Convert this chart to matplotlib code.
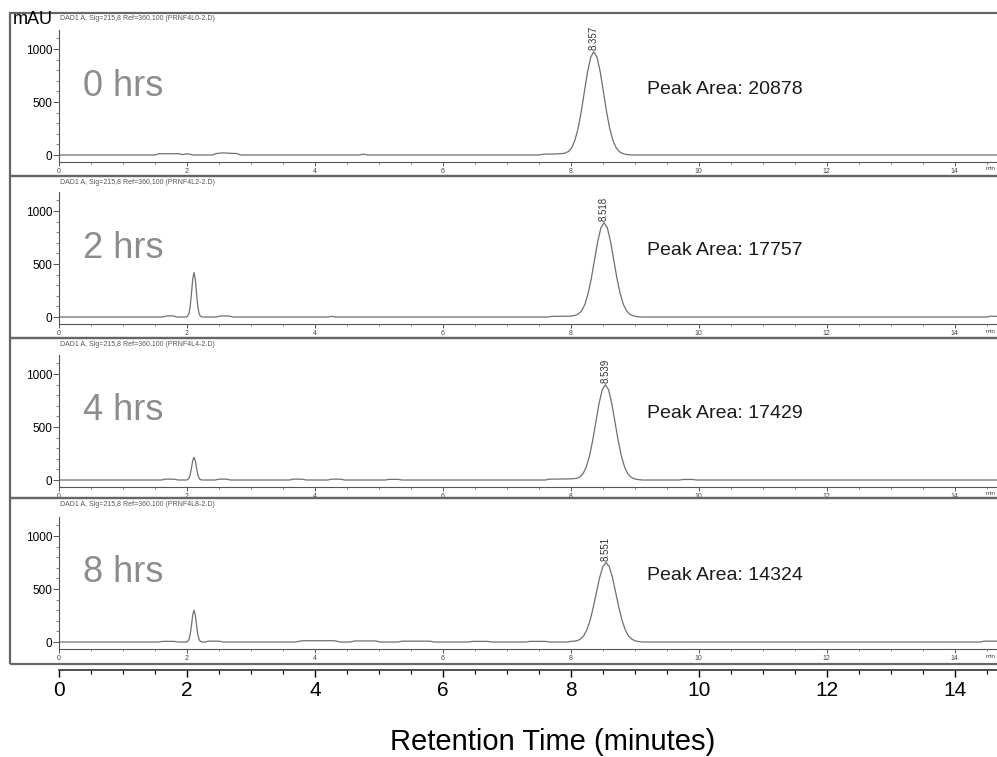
import matplotlib
matplotlib.use("Agg")
import matplotlib.pyplot as plt
from matplotlib.patches import Rectangle
from matplotlib.ticker import MultipleLocator

plt.rcParams['font.family'] = ['Liberation Sans', 'DejaVu Sans']

# figure size in pixels
W, H = 997, 757

# --- data ---
sample_labels = ["0 hrs", "2 hrs", "4 hrs", "8 hrs"]
data_files = ["PRNF4L0-2.D", "PRNF4L2-2.D", "PRNF4L4-2.D", "PRNF4L8-2.D"]
peak_rt = [8.357, 8.518, 8.539, 8.551]
peak_height = [975, 890, 900, 750]
peak_area = [20878, 17757, 17429, 14324]

# (time in min, signal in mAU)
trace_0h = [
    (0.00, 0), (1.50, 0), (1.56, 12), (1.88, 12), (1.93, 3), (1.98, 10), (2.04, 9), (2.09, 0),
    (2.40, 0), (2.46, 14), (2.56, 20), (2.66, 17), (2.78, 14), (2.84, 0),
    (4.70, 0), (4.76, 9), (4.82, 0),
    (7.50, 0), (7.58, 8), (7.78, 10), (7.88, 14), (7.91, 20), (7.96, 32), (8.01, 66),
    (8.06, 133), (8.11, 243), (8.16, 401), (8.21, 592), (8.26, 781), (8.31, 922),
    (8.357, 975), (8.41, 922), (8.46, 781), (8.51, 592), (8.56, 401), (8.61, 243),
    (8.66, 132), (8.71, 66), (8.76, 30), (8.81, 14), (8.86, 6), (8.95, 0), (14.66, 0),
]
trace_2h = [
    (0.00, 0), (1.62, 0), (1.68, 10), (1.78, 10), (1.84, 0),
    (1.99, 0), (2.01, 7), (2.03, 31), (2.05, 96), (2.07, 219), (2.09, 357), (2.11, 420),
    (2.13, 357), (2.15, 219), (2.17, 96), (2.19, 31), (2.21, 9), (2.24, 0),
    (2.46, 0), (2.52, 10), (2.66, 9), (2.72, 0),
    (4.20, 0), (4.26, 6), (4.32, 0),
    (7.65, 0), (7.70, 6), (7.98, 8), (8.02, 10), (8.07, 16), (8.12, 30), (8.17, 60),
    (8.22, 120), (8.27, 222), (8.32, 366), (8.37, 540), (8.42, 713), (8.47, 842),
    (8.518, 890), (8.57, 842), (8.62, 713), (8.67, 540), (8.72, 366), (8.77, 222),
    (8.82, 120), (8.87, 59), (8.92, 27), (8.97, 12), (9.02, 5), (9.10, 0),
    (14.50, 0), (14.56, 8), (14.66, 6),
]
trace_4h = [
    (0.00, 0), (1.60, 0), (1.66, 8), (1.80, 8), (1.86, 0),
    (1.99, 0), (2.01, 4), (2.03, 16), (2.05, 49), (2.07, 112), (2.09, 183), (2.11, 215),
    (2.13, 183), (2.15, 112), (2.17, 49), (2.19, 16), (2.21, 4), (2.24, 0),
    (2.44, 0), (2.50, 8), (2.62, 8), (2.68, 0),
    (3.60, 0), (3.66, 8), (3.80, 8), (3.86, 0),
    (4.20, 0), (4.26, 8), (4.40, 8), (4.46, 0),
    (5.10, 0), (5.16, 6), (5.30, 6), (5.36, 0),
    (7.60, 0), (7.66, 8), (7.95, 10), (8.04, 12), (8.09, 16), (8.14, 28), (8.19, 60),
    (8.24, 122), (8.29, 224), (8.34, 370), (8.39, 546), (8.44, 721), (8.49, 851),
    (8.539, 900), (8.59, 851), (8.64, 721), (8.69, 546), (8.74, 370), (8.79, 224),
    (8.84, 122), (8.89, 59), (8.94, 27), (8.99, 12), (9.04, 5), (9.12, 0),
    (9.70, 0), (9.76, 5), (9.90, 5), (9.96, 0), (14.66, 0),
]
trace_8h = [
    (0.00, 0), (1.55, 0), (1.62, 6), (1.80, 6), (1.86, 0),
    (1.99, 0), (2.01, 5), (2.03, 22), (2.05, 69), (2.07, 156), (2.09, 255), (2.11, 300),
    (2.13, 255), (2.15, 156), (2.17, 69), (2.19, 22), (2.21, 5), (2.24, 0),
    (2.28, 0), (2.34, 8), (2.50, 8), (2.56, 0),
    (3.70, 0), (3.80, 12), (4.30, 12), (4.40, 0),
    (4.55, 0), (4.62, 10), (4.95, 10), (5.02, 0),
    (5.30, 0), (5.36, 8), (5.80, 8), (5.86, 0),
    (6.40, 0), (6.46, 6), (6.70, 6), (6.76, 0),
    (7.30, 0), (7.36, 6), (7.60, 6), (7.66, 0),
    (7.95, 0), (8.00, 6), (8.05, 8), (8.10, 13), (8.15, 28), (8.20, 58), (8.25, 115),
    (8.30, 204), (8.35, 326), (8.40, 469), (8.45, 609), (8.50, 712), (8.551, 750),
    (8.60, 712), (8.65, 609), (8.70, 469), (8.75, 326), (8.80, 204), (8.85, 115),
    (8.90, 58), (8.95, 28), (9.00, 12), (9.05, 5), (9.12, 0),
    (14.40, 0), (14.46, 8), (14.66, 8),
]
traces = [trace_0h, trace_2h, trace_4h, trace_8h]

x_max = 14.66
y_lo, y_hi = -66, 1180

fig = plt.figure(figsize=(W / 100, H / 100), dpi=100)


def px_axes(left, top, width, height):
    # place an axes by pixel box (origin top-left)
    return fig.add_axes([left / W, 1 - (top + height) / H, width / W, height / H])


def fx(px):
    return px / W


def fy(py):
    return 1 - py / H


frame_tops = [13, 176, 338, 498, 664]
zero_rows = [155, 317, 480, 642]
axis_col = '#555555'
trace_col = '#6f6f6f'

for i, trace in enumerate(traces):
    top, bottom = frame_tops[i], frame_tops[i + 1]
    # panel frame
    fig.add_artist(Rectangle((fx(10), fy(bottom)), 1.2, (bottom - top) / H,
                             transform=fig.transFigure, fill=False,
                             edgecolor='#666666', linewidth=1.6))

    y0 = zero_rows[i]
    ax = px_axes(59, y0 - 125, 938, 132)
    ax.patch.set_alpha(0)
    t = [p[0] for p in trace]
    s = [p[1] for p in trace]
    ax.plot(t, s, color=trace_col, linewidth=0.9)
    ax.set_xlim(0, x_max)
    ax.set_ylim(y_lo, y_hi)
    for side in ['top', 'right']:
        ax.spines[side].set_visible(False)
    for side in ['left', 'bottom']:
        ax.spines[side].set_color(axis_col)
        ax.spines[side].set_linewidth(0.8)
    ax.set_yticks([0, 500, 1000])
    ax.yaxis.set_minor_locator(MultipleLocator(100))
    ax.xaxis.set_major_locator(MultipleLocator(2))
    ax.xaxis.set_minor_locator(MultipleLocator(0.5))
    ax.tick_params(axis='y', which='major', labelsize=8.5, length=4, width=0.7,
                   color=axis_col, pad=1)
    ax.tick_params(axis='y', which='minor', length=2, width=0.5, color=axis_col)
    ax.tick_params(axis='x', which='major', labelsize=5, length=3, width=0.7,
                   color=axis_col, labelcolor='#444444', pad=1)
    ax.tick_params(axis='x', which='minor', length=1.5, width=0.5, color=axis_col)

    # retention time above the main peak
    ax.annotate(f"{peak_rt[i]:.3f}", xy=(peak_rt[i], peak_height[i]),
                xytext=(0, 1), textcoords='offset points', rotation=90,
                ha='center', va='bottom', fontsize=7, color='#333333')

    fig.text(fx(60), fy(top + 6), f"DAD1 A, Sig=215,8 Ref=360,100 ({data_files[i]})",
             fontsize=5, color='#555555', ha='left', va='center')
    fig.text(fx(83), fy(y0 - 69), sample_labels[i], fontsize=26, color='#8c8c8c',
             ha='left', va='center')
    fig.text(fx(647), fy(y0 - 66), f"Peak Area: {peak_area[i]}", fontsize=14,
             color='#1a1a1a', ha='left', va='center')
    fig.text(fx(986), fy(y0 + 14), "min", fontsize=4.5, color='#444444',
             ha='left', va='center')

fig.text(fx(13), fy(20), "mAU", fontsize=13, ha='left', va='center')

# shared time axis below the panels
axb = px_axes(59, 669, 938, 1)
axb.patch.set_alpha(0)
axb.set_xlim(0, x_max)
axb.set_yticks([])
for side in ['top', 'right', 'left']:
    axb.spines[side].set_visible(False)
axb.spines['bottom'].set_color('#333333')
axb.spines['bottom'].set_linewidth(1.2)
axb.xaxis.set_major_locator(MultipleLocator(2))
axb.xaxis.set_minor_locator(MultipleLocator(0.5))
axb.tick_params(axis='x', which='major', labelsize=15, length=5, width=1, pad=3)
axb.tick_params(axis='x', which='minor', length=3, width=0.8)

fig.text(fx(553), fy(742), "Retention Time (minutes)", fontsize=21,
         ha='center', va='center')

fig.savefig("out.png", dpi=100)
